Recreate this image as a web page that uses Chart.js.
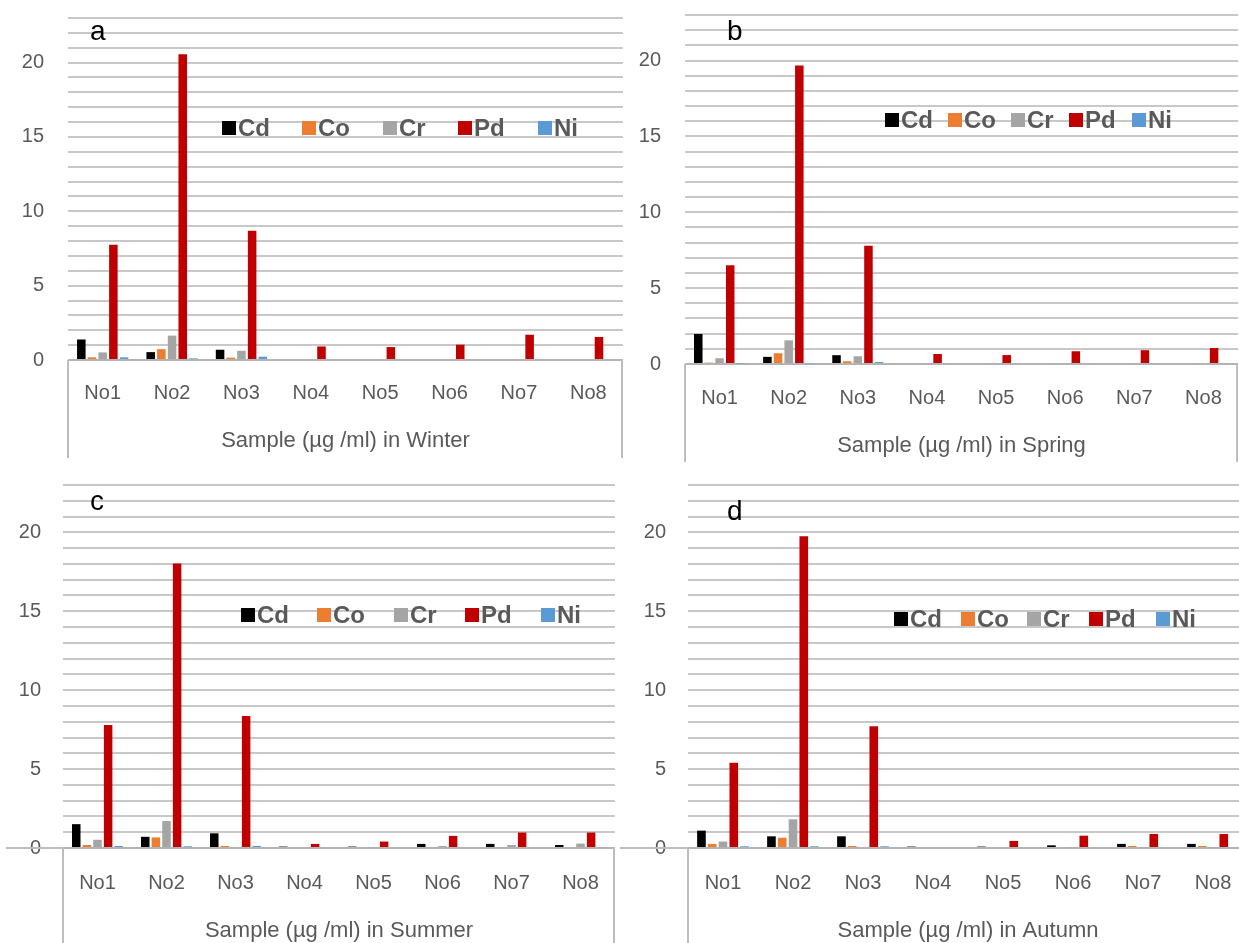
<!DOCTYPE html>
<html><head><meta charset="utf-8">
<script src="https://cdn.jsdelivr.net/npm/chart.js@4.4.1/dist/chart.umd.min.js"></script>
<style>
html,body{margin:0;padding:0;background:#fff;overflow:hidden;width:1239px;height:943px;position:relative;}
canvas{position:absolute;display:block;}
</style></head><body>
<canvas id="ca"></canvas>
<canvas id="cb"></canvas>
<canvas id="cc"></canvas>
<canvas id="cd"></canvas>
<script>
// ---------- data ----------
const samples = ['No1', 'No2', 'No3', 'No4', 'No5', 'No6', 'No7', 'No8'];
const metals = ['Cd', 'Co', 'Cr', 'Pd', 'Ni'];
const metalColors = ['#000000', '#ED7D31', '#A5A5A5', '#C00000', '#5B9BD5'];
const panelLetters = ['a', 'b', 'c', 'd'];
const axisTitles = ['Sample (µg /ml) in Winter', 'Sample (µg /ml) in Spring', 'Sample (µg /ml) in Summer', 'Sample (µg /ml) in Autumn'];
const yMin = 0;
const yMax = 23;
const yGridStep = 1;
const yLabelStep = 5;

// Winter (a)
const winterCd = [1.38, 0.53, 0.69, 0, 0, 0, 0, 0];
const winterCo = [0.18, 0.73, 0.16, 0, 0, 0, 0, 0];
const winterCr = [0.51, 1.64, 0.62, 0, 0, 0, 0, 0];
const winterPd = [7.75, 20.56, 8.69, 0.91, 0.87, 1.03, 1.7, 1.55];
const winterNi = [0.18, 0.11, 0.22, 0, 0, 0, 0.07, 0];
// Spring (b)
const springCd = [1.98, 0.47, 0.58, 0, 0, 0, 0, 0];
const springCo = [0.09, 0.71, 0.18, 0, 0, 0, 0, 0];
const springCr = [0.38, 1.56, 0.51, 0, 0, 0, 0, 0];
const springPd = [6.5, 19.67, 7.79, 0.66, 0.59, 0.84, 0.91, 1.05];
const springNi = [0.04, 0.04, 0.13, 0, 0, 0, 0, 0];
// Summer (c)
const summerCd = [1.51, 0.71, 0.93, 0.09, 0.09, 0.26, 0.26, 0.19];
const summerCo = [0.19, 0.67, 0.13, 0, 0, 0, 0.06, 0];
const summerCr = [0.52, 1.71, 0, 0, 0.06, 0.13, 0.19, 0.28];
const summerPd = [7.8, 18.02, 8.37, 0.26, 0.41, 0.77, 0.98, 0.98];
const summerNi = [0.13, 0.11, 0.13, 0, 0, 0, 0, 0.06];
// Autumn (d)
const autumnCd = [1.1, 0.74, 0.74, 0.09, 0.09, 0.17, 0.26, 0.26];
const autumnCo = [0.26, 0.65, 0.13, 0, 0, 0, 0.13, 0.13];
const autumnCr = [0.41, 1.82, 0, 0, 0, 0.04, 0.04, 0.04];
const autumnPd = [5.4, 19.75, 7.71, 0, 0.45, 0.78, 0.89, 0.89];
const autumnNi = [0.11, 0.11, 0.11, 0, 0, 0, 0, 0];

const seasonSeries = [
  [winterCd, winterCo, winterCr, winterPd, winterNi],
  [springCd, springCo, springCr, springPd, springNi],
  [summerCd, summerCo, summerCr, summerPd, summerNi],
  [autumnCd, autumnCo, autumnCr, autumnPd, autumnNi]
];

// ---------- layout (positions / sizes) ----------
const FAMILY = "'Liberation Sans', Arial, Helvetica, sans-serif";
const TEXT = '#595959';
const layouts = [
  {id:'ca', left:0,   top:0,   w:625, h:458, L:68, R:2,  T:18, H:98, yPad:24, xPad:21, tPad:4,
   legendX:[222,302,383,458,538], legendTop:121, letterX:90,  letterY:40, zeroExt:null},
  {id:'cb', left:625, top:0,   w:614, h:462, L:60, R:1,  T:15, H:98, yPad:24, xPad:22, tPad:3,
   legendX:[260,323,386,444,507], legendTop:113, letterX:102, letterY:40, zeroExt:null},
  {id:'cc', left:0,   top:470, w:620, h:475, L:63, R:5,  T:15, H:97, yPad:22, xPad:23, tPad:1,
   legendX:[241,317,394,465,541], legendTop:138, letterX:90,  letterY:40, zeroExt:6},
  {id:'cd', left:620, top:470, w:640, h:475, L:68, R:12, T:15, H:97, yPad:22, xPad:23, tPad:1,
   legendX:[274,341,407,469,536], legendTop:142, letterX:107, letterY:50, zeroExt:0}
];

Chart.defaults.font.family = FAMILY;
Chart.defaults.color = TEXT;

const decor = {
  id: 'decor',
  afterDraw(chart, args, o) {
    const ctx = chart.ctx, a = chart.chartArea;
    const y0 = chart.scales.y.getPixelForValue(0);
    ctx.save();
    ctx.strokeStyle = '#bdbdbd';
    ctx.lineWidth = 2;
    ctx.beginPath();
    ctx.moveTo(a.left, y0); ctx.lineTo(a.left, chart.height);
    ctx.moveTo(a.right - 1, y0); ctx.lineTo(a.right - 1, chart.height);
    if (o.zeroExt !== null && o.zeroExt !== undefined) {
      ctx.moveTo(o.zeroExt, y0); ctx.lineTo(a.left, y0);
    }
    ctx.stroke();
    // legend
    ctx.font = 'bold 24px ' + FAMILY;
    ctx.textAlign = 'left';
    ctx.textBaseline = 'alphabetic';
    chart.data.datasets.forEach((ds, i) => {
      const x = o.legendX[i], t = o.legendTop;
      ctx.fillStyle = ds.backgroundColor;
      ctx.fillRect(x, t, 14, 14);
      ctx.fillStyle = TEXT;
      ctx.fillText(ds.label, x + 16, t + 15);
    });
    // panel letter
    ctx.font = '28px ' + FAMILY;
    ctx.fillStyle = '#000';
    ctx.fillText(o.letter, o.letterX, o.letterY);
    ctx.restore();
  }
};

layouts.forEach((lay, p) => {
  const cv = document.getElementById(lay.id);
  cv.width = lay.w; cv.height = lay.h;
  cv.style.left = lay.left + 'px'; cv.style.top = lay.top + 'px';
  cv.style.width = lay.w + 'px'; cv.style.height = lay.h + 'px';
  const datasets = metals.map((m, i) => ({
    label: m,
    data: seasonSeries[p][i],
    backgroundColor: metalColors[i],
    borderWidth: 0,
    categoryPercentage: 0.77,
    barPercentage: 0.8
  }));
  new Chart(cv, {
    type: 'bar',
    data: { labels: samples, datasets },
    plugins: [decor],
    options: {
      responsive: false,
      animation: false,
      devicePixelRatio: 1,
      layout: { padding: { top: lay.T, right: lay.R, left: 0, bottom: 0 } },
      plugins: {
        legend: { display: false },
        tooltip: { enabled: false },
        decor: { legendX: lay.legendX, legendTop: lay.legendTop, letter: panelLetters[p],
                 letterX: lay.letterX, letterY: lay.letterY, zeroExt: lay.zeroExt }
      },
      scales: {
        x: {
          grid: { display: false, drawTicks: false },
          border: { display: false },
          ticks: { font: { size: 20 }, color: TEXT, padding: lay.xPad, maxRotation: 0, autoSkip: false },
          title: { display: true, text: axisTitles[p], font: { size: 22 }, color: TEXT,
                   padding: { top: 0, bottom: lay.tPad } },
          afterFit(s) { s.height = lay.H; s.paddingLeft = 0; s.paddingRight = 0; }
        },
        y: {
          min: yMin, max: yMax,
          grid: {
            drawTicks: false,
            color: c => (c.tick && c.tick.value === 0) ? '#b3b3b3' : '#c8c8c8',
            lineWidth: 2
          },
          border: { display: false },
          ticks: {
            stepSize: yGridStep, autoSkip: false, padding: lay.yPad,
            font: { size: 20 }, color: TEXT,
            callback: v => (v % yLabelStep === 0 ? String(v) : '')
          },
          afterFit(s) { s.width = lay.L; s.paddingTop = 0; s.paddingBottom = 0; }
        }
      }
    }
  });
});
</script>
</body></html>
